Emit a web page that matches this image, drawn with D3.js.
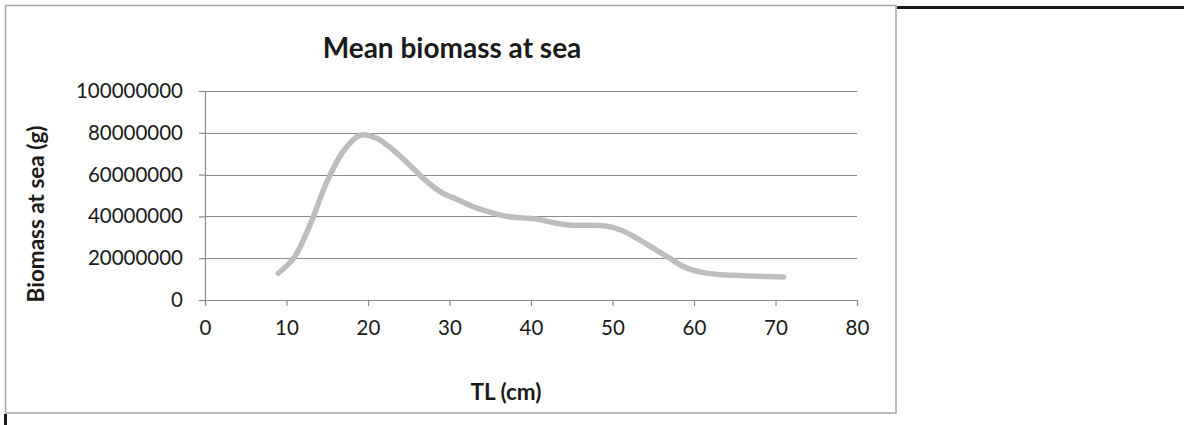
<!DOCTYPE html>
<html>
<head>
<meta charset="utf-8">
<script src="https://cdn.jsdelivr.net/npm/d3@7"></script>
<style>
  html, body { margin: 0; padding: 0; background: #fff; }
  svg { display: block; }
  text { font-family: Lato, "Open Sans", sans-serif; fill: #1a1a1a; }
</style>
</head>
<body>
<svg id="chart" width="1184" height="425"></svg>
<script>
const lengthsCm = [9,11,13,15,17,19,21,23,25,27,29,31,33,35,37,39,41,43,45,47,49,51,53,55,57,59,61,63,65,67,69,71];
const biomassG = [12.8e6,20.7e6,37e6,57e6,71.3e6,78.8e6,77.5e6,72e6,65e6,57.5e6,51.5e6,48e6,44.5e6,42e6,40e6,39.3e6,38.5e6,36.8e6,35.8e6,35.8e6,35.5e6,33.5e6,29.5e6,24.8e6,20e6,15.5e6,13.2e6,12.2e6,11.8e6,11.5e6,11.2e6,11e6];
const xTicks = [0,10,20,30,40,50,60,70,80];
const yTicks = [0,20000000,40000000,60000000,80000000,100000000];
const chartTitle = "Mean biomass at sea";
const xTitle = "TL (cm)";
const yTitle = "Biomass at sea (g)";

const svg = d3.select("#chart");
const x = d3.scaleLinear().domain([0, 80]).range([205, 857]);
const y = d3.scaleLinear().domain([0, 100000000]).range([300, 91]);

// outer frame
svg.append("rect").attr("x", 5.5).attr("y", 5.5).attr("width", 890.5).attr("height", 407.5)
  .attr("fill", "none").attr("stroke", "#a6a6a6").attr("stroke-width", 1.5);
// black line segments at page edges
svg.append("rect").attr("x", 897).attr("y", 6).attr("width", 287).attr("height", 3).attr("fill", "#1a1a1a");
svg.append("rect").attr("x", 4).attr("y", 414).attr("width", 3).attr("height", 11).attr("fill", "#1a1a1a");

// gridlines
svg.append("g").selectAll("line").data(yTicks.filter(d => d > 0)).join("line")
  .attr("x1", x(0)).attr("x2", x(80))
  .attr("y1", d => Math.round(y(d)) + 0.5).attr("y2", d => Math.round(y(d)) + 0.5)
  .attr("stroke", "#8c8c8c").attr("stroke-width", 1.2);

// y axis
const yAxis = svg.append("g").attr("transform", `translate(${x(0)},0)`)
  .call(d3.axisLeft(y).tickValues(yTicks).tickFormat(d3.format("d")).tickSize(6).tickPadding(16));
// x axis
const xAxis = svg.append("g").attr("transform", `translate(0,${y(0)})`)
  .call(d3.axisBottom(x).tickValues(xTicks).tickFormat(d3.format("d")).tickSize(6).tickPadding(14));

[yAxis, xAxis].forEach(a => {
  a.select(".domain").attr("stroke", "#8c8c8c").attr("stroke-width", 1.2);
  a.selectAll(".tick line").attr("stroke", "#8c8c8c").attr("stroke-width", 1.2);
  a.selectAll(".tick text").style("font-family", "Lato, 'Open Sans', sans-serif")
    .style("font-size", "20.5px").attr("fill", "#1a1a1a");
});

// series
const line = d3.line().x(d => x(d[0])).y(d => y(d[1])).curve(d3.curveCatmullRom.alpha(0.5));
svg.append("path").datum(d3.zip(lengthsCm, biomassG))
  .attr("d", line).attr("fill", "none").attr("stroke", "#bdbdbd")
  .attr("stroke-width", 5.5).attr("stroke-linecap", "round").attr("stroke-linejoin", "round");

// titles
svg.append("text").attr("x", 452).attr("y", 47).attr("text-anchor", "middle")
  .attr("dominant-baseline", "central")
  .style("font-size", "28px").style("font-weight", "bold").text(chartTitle);
svg.append("text").attr("x", 506).attr("y", 391).attr("text-anchor", "middle")
  .attr("dominant-baseline", "central")
  .style("font-size", "22.5px").style("font-weight", "bold").text(xTitle);
svg.append("text").attr("transform", "translate(35,214) rotate(-90)").attr("text-anchor", "middle")
  .attr("dominant-baseline", "central")
  .style("font-size", "22.5px").style("font-weight", "bold").text(yTitle);
</script>
</body>
</html>
